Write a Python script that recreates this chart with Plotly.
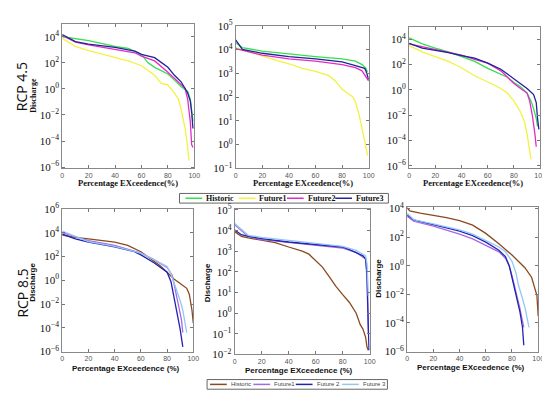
import plotly.graph_objects as go

# ---------------- DATA ----------------
top_names = ["Historic", "Future1", "Future2", "Future3"]
bot_names = ["Historic", "Future1", "Future 2", "Future 3"]
x_ticks = [0, 20, 40, 60, 80, 100]

# Panel 1 (RCP 4.5, left)
p1_hist_x = [0, 20, 40, 50, 60, 65, 70, 80, 85, 90, 95, 97, 99]
p1_hist_q = [1.0e4, 5.0e3, 1.8e3, 1.26e3, 4.4e2, 1.0e2, 4.5e1, 1.4e1, 4.7, 1.5, 0.63, 0.16, 3.2e-3]
p1_f1_x = [0, 10, 20, 40, 50, 60, 70, 75, 80, 85, 88, 90, 93, 95, 96]
p1_f1_q = [7.6e3, 1.8e3, 8.7e2, 2.5e2, 1.4e2, 6.0e1, 1.1e1, 2.6, 2.0, 0.48, 0.16, 2.8e-2, 1.0e-3, 3.2e-5, 3.2e-6]
p1_f2_x = [0, 10, 20, 40, 55, 60, 70, 80, 85, 90, 93, 95, 97, 98, 99]
p1_f2_q = [1.26e4, 3.8e3, 2.4e3, 1.15e3, 5.9e2, 3.3e2, 1.4e2, 1.9e1, 6.3, 2.0, 1.1, 0.16, 2.9e-3, 5.4e-5, 3.2e-5]
p1_f3_x = [0, 10, 20, 40, 55, 60, 70, 80, 85, 90, 95, 97, 98, 99]
p1_f3_q = [1.5e4, 4.3e3, 2.7e3, 1.55e3, 7.9e2, 4.4e2, 2.5e2, 4.5e1, 1.1e1, 3.5, 0.48, 0.115, 1.6e-2, 9.1e-4]

# Panel 2 (RCP 4.5, middle)
p2_hist_x = [0, 5, 20, 40, 60, 80, 90, 95, 98, 99]
p2_hist_q = [1.9e4, 1.2e4, 8.5e3, 6.3e3, 5.0e3, 4.0e3, 3.2e3, 2.3e3, 1.6e3, 1.1e3]
p2_f1_x = [0, 15, 25, 40, 50, 60, 70, 75, 80, 85, 88, 90, 93, 95, 97, 98, 99]
p2_f1_q = [1.2e4, 6.3e3, 4.3e3, 2.5e3, 1.6e3, 1.2e3, 7.9e2, 4.7e2, 2.1e2, 1.35e2, 1.0e2, 6.3e1, 1.6e1, 4.7, 1.6, 0.74, 0.34]
p2_f2_x = [0, 20, 40, 60, 80, 90, 95, 98, 100]
p2_f2_q = [1.07e4, 5.8e3, 4.0e3, 3.2e3, 2.3e3, 1.7e3, 1.26e3, 7.4e2, 4.7e2]
p2_f3_x = [0, 5, 20, 40, 60, 80, 90, 97, 98, 100]
p2_f3_q = [2.5e4, 1.0e4, 6.9e3, 5.0e3, 4.0e3, 3.0e3, 2.1e3, 1.6e3, 1.2e3, 5.4e2]

# Panel 3 (RCP 4.5, right)
p3_hist_x = [0, 10, 20, 30, 40, 50, 60, 70, 75, 80, 85, 90, 93, 95, 97, 98]
p3_hist_q = [1.3e4, 4.3e3, 2.0e3, 1.0e3, 4.3e2, 1.8e2, 5.0e1, 1.8e1, 1.0e1, 3.8, 1.8, 0.56, 0.13, 3.2e-2, 5.6e-3, 1.3e-3]
p3_f1_x = [0, 10, 20, 30, 40, 50, 60, 70, 75, 80, 85, 88, 90, 92, 93]
p3_f1_q = [3.2e3, 1.0e3, 4.3e2, 1.8e2, 5.6e1, 1.3e1, 4.2, 1.3, 0.56, 0.13, 1.8e-2, 3.2e-3, 3.2e-4, 1.8e-5, 3.2e-6]
p3_f2_x = [0, 20, 40, 50, 60, 70, 75, 80, 85, 90, 92, 94, 96, 97]
p3_f2_q = [4.3e3, 1.5e3, 5.6e2, 2.6e2, 1.3e2, 3.2e1, 1.0e1, 3.2, 1.3, 0.56, 0.13, 1.0e-2, 3.2e-4, 3.2e-5]
p3_f3_x = [0, 10, 20, 30, 40, 50, 60, 70, 75, 80, 85, 90, 95, 97, 98, 99]
p3_f3_q = [4.7e3, 2.0e3, 1.3e3, 8.9e2, 5.0e2, 3.2e2, 1.3e2, 4.3e1, 1.8e1, 7.6, 3.2, 1.3, 0.43, 0.1, 5.6e-3, 7.6e-4]

# Panel 4 (RCP 8.5, left)
p4_hist_x = [0, 10, 20, 30, 40, 50, 60, 70, 75, 80, 85, 90, 95, 97, 98, 99, 100]
p4_hist_q = [6.3e3, 4.0e3, 3.0e3, 2.1e3, 1.6e3, 8.5e2, 2.5e2, 4.0e1, 1.6e1, 4.7, 1.35, 0.54, 0.21, 6.3e-2, 1.9e-2, 3.0e-3, 2.5e-4]
p4_f1_x = [0, 20, 40, 60, 70, 80, 84, 87, 89, 91, 92]
p4_f1_q = [1.0e4, 2.1e3, 8.5e2, 1.9e2, 5.4e1, 1.2e1, 2.5, 6.3e-2, 1.0e-2, 4.7e-4, 4.0e-5]
p4_f2_x = [0, 10, 20, 40, 55, 60, 70, 80, 83, 85, 88, 90, 92]
p4_f2_q = [7.4e3, 3.0e3, 1.6e3, 6.3e2, 2.5e2, 1.35e2, 3.0e1, 4.7, 0.74, 6.3e-2, 1.6e-3, 7.4e-5, 2.5e-6]
p4_f3_x = [0, 20, 40, 60, 70, 80, 83, 86, 88, 90, 92, 94, 95]
p4_f3_q = [1.35e4, 1.8e3, 7.1e2, 1.9e2, 5.4e1, 1.4e1, 3.4, 0.4, 6.3e-2, 1.9e-2, 3.0e-3, 1.35e-4, 4.0e-5]

# Panel 5 (RCP 8.5, middle)
p5_hist_x = [0, 5, 10, 20, 30, 40, 50, 55, 60, 65, 70, 75, 80, 85, 90, 93, 95, 97, 98, 99]
p5_hist_q = [8.9e3, 5.2e3, 4.4e3, 3.3e3, 2.6e3, 1.6e3, 1.0e3, 7.2e2, 3.5e2, 1.7e2, 5.9e1, 2.0e1, 7.9, 3.3, 1.0, 0.28, 0.17, 6.8e-2, 2.3e-2, 1.6e-2]
p5_f1_x = [0, 10, 20, 40, 60, 80, 90, 97, 98, 99]
p5_f1_q = [1.9e4, 5.2e3, 3.6e3, 2.6e3, 1.9e3, 1.4e3, 8.7e2, 4.2e2, 4.0e1, 0.1]
p5_f2_x = [0, 5, 10, 20, 40, 60, 80, 85, 90, 95, 97, 98, 99, 99.5]
p5_f2_q = [1.07e4, 6.3e3, 5.2e3, 4.1e3, 2.8e3, 2.1e3, 1.6e3, 1.2e3, 8.7e2, 6.0e2, 4.2e2, 8.3e1, 0.2, 1.6e-2]
p5_f3_x = [0, 10, 20, 40, 60, 80, 90, 97, 98, 99]
p5_f3_q = [2.2e4, 5.9e3, 4.7e3, 3.3e3, 2.4e3, 1.7e3, 1.1e3, 6.0e2, 2.5e2, 6.8]

# Panel 6 (RCP 8.5, right)
p6_hist_x = [0, 2, 10, 20, 30, 40, 50, 60, 70, 80, 90, 95, 97, 99, 100]
p6_hist_q = [1.1e4, 6.6e3, 4.6e3, 3.2e3, 2.3e3, 1.4e3, 6.8e2, 1.8e2, 3.4e1, 5.5, 0.69, 0.15, 4.1e-2, 8.5e-3, 3.0e-4]
p6_f1_x = [0, 5, 20, 40, 50, 60, 70, 75, 78, 80, 82, 84, 86, 88, 89]
p6_f1_q = [2.8e3, 1.26e3, 5.8e2, 1.6e2, 7.4e1, 2.6e1, 9.3, 3.3, 0.91, 0.2, 4.1e-2, 8.5e-3, 1.1e-3, 1.35e-4, 5.0e-5]
p6_f2_x = [0, 5, 20, 40, 50, 60, 70, 75, 78, 80, 82, 84, 86, 88, 89]
p6_f2_q = [3.5e3, 1.6e3, 7.4e2, 2.6e2, 1.26e2, 4.4e1, 1.2e1, 4.3, 0.91, 0.15, 3.2e-2, 5.1e-3, 6.3e-4, 5.0e-5, 2.8e-6]
p6_f3_x = [0, 5, 20, 40, 50, 60, 70, 75, 80, 83, 85, 88, 90, 92, 93]
p6_f3_q = [4.6e3, 1.6e3, 8.3e2, 3.1e2, 1.6e2, 5.6e1, 2.0e1, 9.3, 2.0, 0.32, 4.1e-2, 5.1e-3, 1.1e-3, 1.35e-4, 5.0e-5]

# ---------------- STYLE ----------------
W, H = 550, 393
top_colors = ["#35e04a", "#f2f240", "#e22bc8", "#22229a"]
bot_colors = ["#8a4a1e", "#a46ae6", "#2323b0", "#92c8f0"]

def fx(p):
    return p / W

def fy(p):
    return 1 - p / H

# pixel boxes: x0, x1, ytop, ybottom ; y exponents ; y range (log10)
panels = [
    (53, 187, 8, 158, [-6, -4, -2, 0, 2, 4], [-6.1, 5.0]),
    (229, 364, 10, 158, [-1, 0, 1, 2, 3, 4, 5], [-1.0, 5.0]),
    (405, 538, 11, 158, [-6, -4, -2, 0, 2, 4], [-6.2, 5.0]),
    (53, 186, 200, 348, [-6, -4, -2, 0, 2, 4, 6], [-6.0, 6.0]),
    (228, 365, 200, 351, [-2, -1, 0, 1, 2, 3, 4, 5], [-2.0, 5.05]),
    (403, 536, 198, 348, [-6, -4, -2, 0, 2, 4], [-6.0, 4.1]),
]

series = [
    [(p1_hist_x, p1_hist_q), (p1_f1_x, p1_f1_q), (p1_f2_x, p1_f2_q), (p1_f3_x, p1_f3_q)],
    [(p2_hist_x, p2_hist_q), (p2_f1_x, p2_f1_q), (p2_f2_x, p2_f2_q), (p2_f3_x, p2_f3_q)],
    [(p3_hist_x, p3_hist_q), (p3_f1_x, p3_f1_q), (p3_f2_x, p3_f2_q), (p3_f3_x, p3_f3_q)],
    [(p4_hist_x, p4_hist_q), (p4_f1_x, p4_f1_q), (p4_f2_x, p4_f2_q), (p4_f3_x, p4_f3_q)],
    [(p5_hist_x, p5_hist_q), (p5_f1_x, p5_f1_q), (p5_f2_x, p5_f2_q), (p5_f3_x, p5_f3_q)],
    [(p6_hist_x, p6_hist_q), (p6_f1_x, p6_f1_q), (p6_f2_x, p6_f2_q), (p6_f3_x, p6_f3_q)],
]

fig = go.Figure()
layout = dict(
    width=W, height=H, margin=dict(l=0, r=0, t=0, b=0),
    paper_bgcolor="white", plot_bgcolor="white", showlegend=False,
)

serif = "Liberation Serif"
sans = "Liberation Sans"

for i, (box, ser) in enumerate(zip(panels, series)):
    k = i + 1
    x0, x1, yt, yb, exps, yr = box
    names = top_names if i < 3 else bot_names
    colors = top_colors if i < 3 else bot_colors
    for j, (xs, qs) in enumerate(ser):
        fig.add_trace(go.Scatter(
            x=xs, y=qs, mode="lines", name=names[j],
            line=dict(color=colors[j], width=1.3),
            xaxis=f"x{k}", yaxis=f"y{k}", showlegend=False,
        ))
    sfx = "" if k == 1 else str(k)
    layout[f"xaxis{sfx}"] = dict(
        domain=[fx(x0), fx(x1)], anchor=f"y{k}", range=[0, 100],
        tickvals=x_ticks, ticks="inside", ticklen=3, tickcolor="#777",
        showline=True, linecolor="#888", linewidth=1, mirror="ticks",
        showgrid=False, zeroline=False,
        tickfont=dict(family=sans, size=7, color="#555"),
    )
    layout[f"yaxis{sfx}"] = dict(
        domain=[fy(yb), fy(yt)], anchor=f"x{k}", type="log", range=yr,
        tickvals=[10.0 ** e for e in exps],
        ticktext=[f"10<sup>{'−' + str(-e) if e < 0 else e}</sup>" for e in exps],
        ticks="inside", ticklen=3, tickcolor="#777",
        showline=True, linecolor="#888", linewidth=1, mirror="ticks",
        showgrid=False, zeroline=False,
        tickfont=dict(family=serif, size=11, color="#111"),
    )

annotations = []
shapes = []

def ann(text, x, y, size, family, angle=0, bold=False, color="#111"):
    t = f"<b>{text}</b>" if bold else text
    annotations.append(dict(
        text=t, x=fx(x), y=fy(y), xref="paper", yref="paper", showarrow=False,
        textangle=angle, font=dict(size=size, family=family, color=color),
        xanchor="center", yanchor="middle",
    ))

ann("RCP 4.5", 12, 73, 14, "Open Sans", angle=-90)
ann("RCP 8.5", 13, 287, 14, "Open Sans", angle=-90)
ann("Discharge", 23, 82, 8, serif, angle=-90, bold=True)
ann("Discharge", 23, 276, 8, sans, angle=-90, bold=True)
ann("Discharge", 200, 277, 8, sans, angle=-90, bold=True)
ann("Discharge", 374, 272, 8, sans, angle=-90, bold=True)

for cx in (120, 297, 470):
    ann("Percentage EXceedence(%)", cx, 173, 8.5, serif, bold=True)
for cx, cy in ((117, 366), (293, 368), (467, 364)):
    ann("Percentage EXceedence (%)", cx, cy, 8, sans, bold=True)

# legends drawn in paper space
def legend(box, starts, length, names, colors, size, family, bold, tcolor):
    bx0, bx1, by0, by1 = box
    shapes.append(dict(type="rect", xref="paper", yref="paper",
                       x0=fx(bx0), x1=fx(bx1), y0=fy(by1), y1=fy(by0),
                       line=dict(color="#666", width=1), fillcolor="white"))
    ym = (by0 + by1) / 2
    for s, n, c in zip(starts, names, colors):
        shapes.append(dict(type="line", xref="paper", yref="paper",
                           x0=fx(s), x1=fx(s + length), y0=fy(ym), y1=fy(ym),
                           line=dict(color=c, width=1.5)))
        t = f"<b>{n}</b>" if bold else n
        annotations.append(dict(text=t, x=fx(s + length + 2), y=fy(ym), xref="paper",
                                yref="paper", showarrow=False, xanchor="left",
                                yanchor="middle",
                                font=dict(size=size, family=family, color=tcolor)))

legend((172, 384, 184, 194), [178, 232, 281, 330], 17, top_names, top_colors,
       8, serif, True, "#111")
legend((200, 383, 377, 387), [203, 247, 290, 337], 17, bot_names, bot_colors,
       6, sans, False, "#444")

layout["annotations"] = annotations
layout["shapes"] = shapes
fig.update_layout(**layout)
fig.write_html("out.html")
